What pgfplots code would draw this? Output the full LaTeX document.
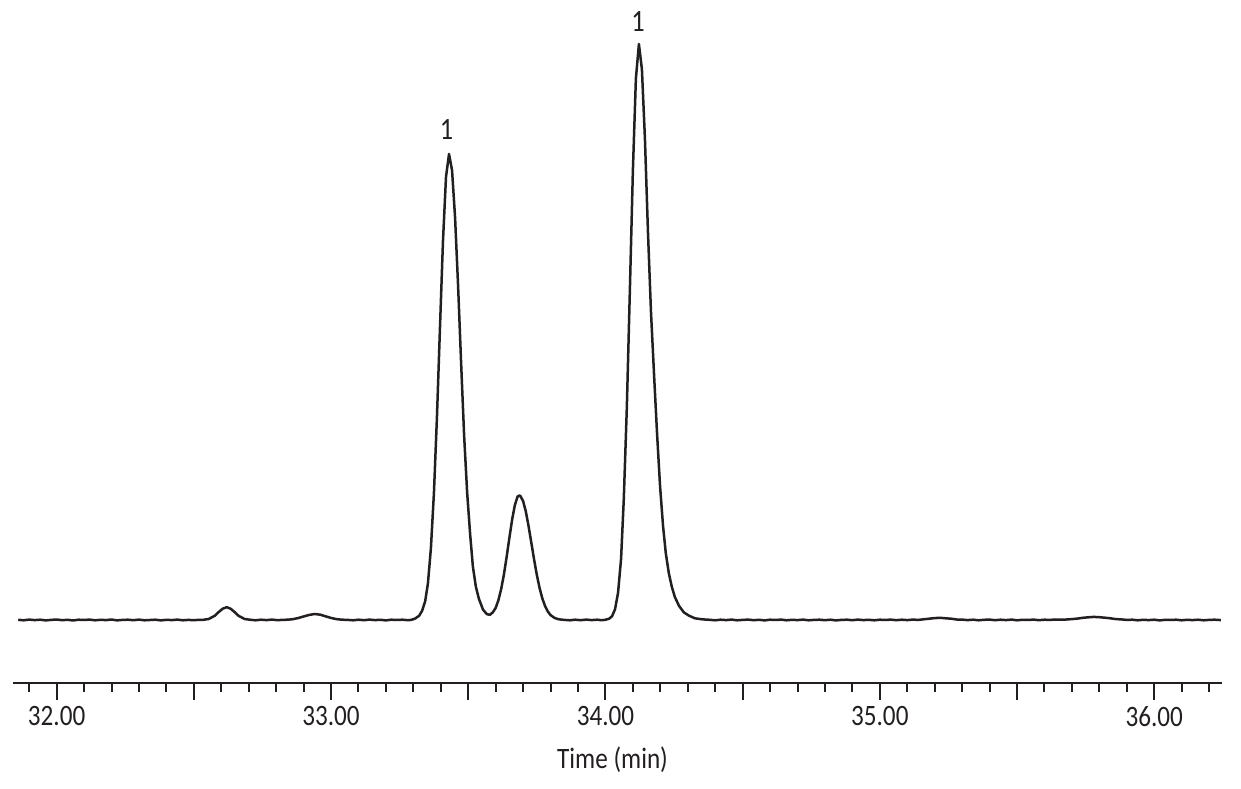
\documentclass[border=0pt]{standalone}
\usepackage{fontspec}
\setmainfont{Carlito}[FakeStretch=0.85]
\usepackage{pgfplots}
\pgfplotsset{compat=1.18}
\definecolor{ink}{HTML}{231F20}
\begin{document}
\begin{tikzpicture}
\useasboundingbox (0,0) rectangle (620.5bp,394.5bp);
\begin{axis}[
  at={(6.65bp,53.15bp)}, anchor=south west,
  scale only axis, width=604.2bp, height=341.35bp,
  xmin=31.842, xmax=36.246, ymin=-62.7, ymax=620,
  axis y line=none,
  axis x line*=bottom,
  axis line style={ink, line width=1.1bp},
  xtick={32,32.5,33,33.5,34,34.5,35,35.5,36},
  xticklabels={32.00,,33.00,,34.00,,35.00,,36.00},
  minor xtick={31.9,32.1,32.2,32.3,32.4,32.6,32.7,32.8,32.9,33.1,33.2,33.3,33.4,33.6,33.7,33.8,33.9,34.1,34.2,34.3,34.4,34.6,34.7,34.8,34.9,35.1,35.2,35.3,35.4,35.6,35.7,35.8,35.9,36.1,36.2},
  tick align=outside,
  major tick length=8.5bp, minor tick length=4.5bp,
  tick style={ink, line width=1bp},
  tick label style={font=\fontsize{14.8bp}{16bp}\selectfont, text=ink},
  xlabel={Time (min)},
  xlabel style={font=\fontsize{14.8bp}{16bp}\selectfont, text=ink, at={(axis description cs:0.4959,0)}, anchor=base, yshift=-42.65bp},
  clip=false,
]
\addplot[ink, line width=1.25bp, line join=round] coordinates {
(31.860,0.2)(31.880,-0.3)(31.900,0.4)(31.920,-0.1)(31.940,0.3)(31.960,-0.4)(31.980,0.1)(32.000,0.5)
(32.020,-0.2)(32.040,0.2)(32.060,-0.5)(32.080,0.3)(32.100,0.0)(32.120,0.4)(32.140,-0.3)(32.160,0.2)
(32.180,-0.1)(32.200,0.5)(32.220,-0.4)(32.240,0.1)(32.260,0.3)(32.280,-0.2)(32.300,0.4)(32.320,-0.3)
(32.340,0.0)(32.360,0.3)(32.380,-0.4)(32.400,0.2)(32.420,-0.1)(32.440,0.4)(32.460,-0.3)(32.480,0.1)
(32.500,-0.2)(32.520,0.2)
(32.532,0.1)(32.554,1.0)(32.576,4.2)(32.590,7.8)(32.605,11.3)(32.620,12.8)(32.634,11.3)(32.649,7.8)
(32.663,4.2)(32.685,1.0)(32.707,0.2)
(32.725,-0.3)(32.745,0.3)(32.765,-0.1)(32.785,0.4)(32.805,-0.2)
(32.821,0.1)(32.841,0.3)(32.861,0.8)(32.881,2.0)(32.901,3.6)(32.921,5.1)(32.941,6.0)(32.961,5.3)
(32.981,3.6)(33.001,2.0)(33.021,0.8)(33.041,0.3)(33.061,0.1)
(33.080,-0.3)(33.100,0.3)(33.120,-0.2)(33.140,0.4)(33.160,-0.1)(33.180,0.2)(33.200,-0.4)(33.220,0.3)
(33.240,0.0)(33.260,0.3)(33.280,-0.2)
(33.292,0.1)(33.306,1.4)(33.321,4.2)(33.332,9.3)(33.343,18.7)(33.353,36.4)(33.364,71.9)(33.375,127.0)
(33.386,203.1)(33.397,292.3)(33.408,379.2)(33.419,443.2)(33.430,466)(33.441,449.7)(33.452,402.6)
(33.463,334.4)(33.474,257.3)(33.485,184.5)(33.496,127.5)(33.507,85.5)(33.517,53.2)(33.528,33.0)
(33.539,21.1)(33.554,10.3)(33.568,5.8)(33.579,5.2)
(33.590,7.8)(33.600,12.1)(33.610,19.8)(33.620,30.9)(33.630,45.4)(33.640,63.1)(33.650,82.2)(33.660,100.5)
(33.670,115.0)(33.680,123.5)(33.686,124.5)(33.690,124.0)(33.700,119.0)(33.710,108.3)(33.720,93.7)
(33.730,77.2)(33.740,60.5)(33.750,45.1)(33.760,32.0)(33.770,21.6)(33.780,13.9)(33.790,8.5)(33.800,4.9)
(33.815,2.0)(33.830,0.7)(33.850,0.1)
(33.870,-0.3)(33.890,0.3)(33.910,-0.2)(33.930,0.4)(33.950,-0.1)(33.970,0.3)(33.985,-0.2)
(33.998,0.1)(34.013,1.2)(34.024,3.7)(34.035,10.7)(34.046,27.2)(34.057,61.1)(34.067,121.5)(34.078,212.5)
(34.089,328.9)(34.100,448.7)(34.111,541.4)(34.122,576)(34.133,550.7)(34.144,481.0)(34.155,388.2)
(34.166,308.2)(34.177,246.5)(34.188,187.2)(34.199,134.2)(34.210,93.9)(34.220,66.8)(34.231,46.9)
(34.242,33.1)(34.253,23.0)(34.268,14.2)(34.286,7.6)(34.304,4.4)(34.326,1.7)(34.355,0.6)
(34.380,0.2)(34.400,-0.3)(34.420,0.3)(34.440,-0.1)(34.460,0.4)(34.480,-0.3)(34.500,0.1)(34.520,0.4)
(34.540,-0.2)(34.560,0.2)(34.580,-0.4)(34.600,0.3)(34.620,0.0)(34.640,0.4)(34.660,-0.3)(34.680,0.2)
(34.700,-0.1)(34.720,0.4)(34.740,-0.3)(34.760,0.1)(34.780,0.3)(34.800,-0.2)(34.820,0.3)(34.840,-0.4)
(34.860,0.1)(34.880,0.3)(34.900,-0.2)(34.920,0.4)(34.940,-0.1)(34.960,0.2)(34.980,-0.3)(35.000,0.3)
(35.020,0.0)(35.040,0.4)(35.060,-0.2)(35.080,0.3)(35.100,-0.1)(35.120,0.4)(35.140,0.1)
(35.160,0.7)(35.180,1.3)(35.200,1.9)(35.220,2.2)(35.240,1.7)(35.260,1.3)(35.280,0.5)(35.300,0.4)
(35.320,-0.1)(35.340,0.3)(35.360,-0.3)(35.380,0.2)(35.400,0.4)(35.420,-0.2)(35.440,0.3)(35.460,-0.1)
(35.480,0.4)(35.500,-0.3)(35.520,0.2)(35.540,0.0)(35.560,0.4)(35.580,-0.2)(35.600,0.3)(35.620,0.1)
(35.640,0.5)(35.660,0.3)
(35.680,0.5)(35.700,0.9)(35.720,1.4)(35.740,2.2)(35.760,2.7)(35.780,3.1)(35.800,2.8)(35.820,2.3)
(35.840,1.7)(35.860,0.9)(35.880,0.6)(35.900,0.1)(35.920,0.3)(35.940,-0.3)(35.960,0.2)(35.980,-0.1)
(36.000,0.3)(36.020,-0.4)(36.040,0.2)(36.060,0.0)(36.080,0.3)(36.100,-0.3)(36.120,0.2)(36.140,-0.1)
(36.160,0.3)(36.180,-0.3)(36.200,0.1)(36.220,0.3)(36.243,-0.1)
};
\node[font=\fontsize{15.5bp}{17bp}\selectfont, text=ink] at (axis cs:33.421,490) {1};
\node[font=\fontsize{15.5bp}{17bp}\selectfont, text=ink] at (axis cs:34.119,598.3) {1};
\end{axis}
\end{tikzpicture}
\end{document}
